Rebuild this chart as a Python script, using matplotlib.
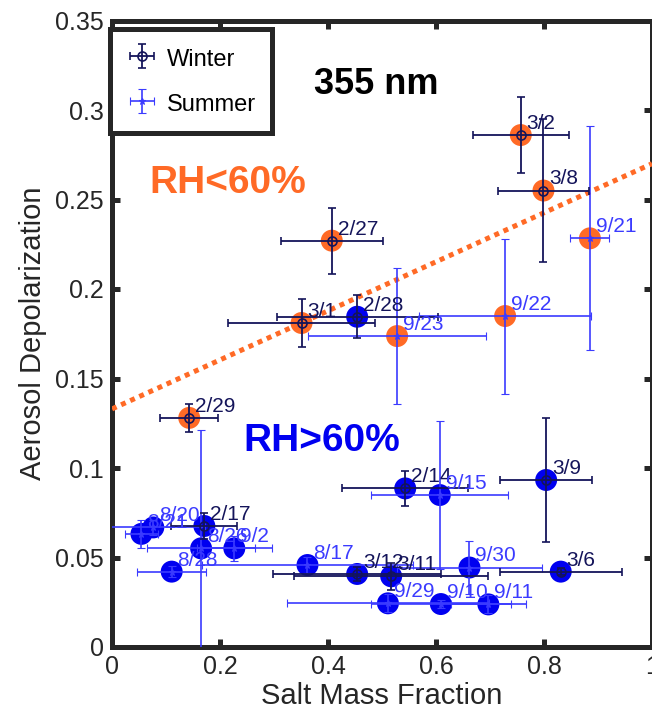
import numpy as np
import matplotlib
matplotlib.use("Agg")
import matplotlib.pyplot as plt

# =========================
# DATA
# =========================
winter_dates = ["3/2", "3/8", "2/27", "3/1", "2/28", "2/29", "2/14", "3/9", "3/6", "3/12", "3/11", "2/17"]
winter_salt = [0.757, 0.799, 0.407, 0.351, 0.454, 0.143, 0.543, 0.804, 0.831, 0.454, 0.517, 0.171]
winter_depol = [0.286, 0.255, 0.227, 0.181, 0.1845, 0.128, 0.0886, 0.0933, 0.0421, 0.0408, 0.0395, 0.0676]
winter_salt_err = [0.089, 0.085, 0.094, 0.136, 0.149, 0.054, 0.117, 0.085, 0.113, 0.155, 0.180, 0.061]
winter_depol_err = [0.021, 0.040, 0.0185, 0.0133, 0.012, 0.008, 0.0098, 0.0346, 0.002, 0.004, 0.0075, 0.0075]
winter_dry = [True, True, True, True, False, True, False, False, False, False, False, False]

summer_dates = ["9/21", "9/22", "9/23", "9/15", "9/30", "9/29", "9/10", "9/11",
                "8/17", "8/28", "8/26", "9/2", "8/20", "8/21"]
summer_salt = [0.885, 0.728, 0.528, 0.607, 0.662, 0.511, 0.609, 0.697,
               0.362, 0.1105, 0.165, 0.2265, 0.0765, 0.0545]
summer_depol = [0.2283, 0.1849, 0.1737, 0.0849, 0.0444, 0.0244, 0.024, 0.0238,
                0.0458, 0.0421, 0.0551, 0.0551, 0.0668, 0.0632]
summer_salt_err = [0.036, 0.159, 0.165, 0.1265, 0.135, 0.187, 0.13, 0.07,
                   0.196, 0.0635, 0.1, 0.07, 0.096, 0.03]
summer_depol_err = [0.0625, 0.0433, 0.038, 0.0415, 0.015, 0.005, 0.002, 0.005,
                    0.0046, 0.003, 0.066, 0.007, 0.004, 0.008]
summer_dry = [True, True, True, False, False, False, False, False,
              False, False, False, False, False, False]

# dotted RH<60% trend line
fit_x = [0.0, 1.0]
fit_y = [0.133, 0.270]

# =========================
# STYLE
# =========================
plt.rcParams["font.family"] = ["Liberation Sans", "DejaVu Sans"]
dark = "#262626"
navy = "#14145a"
summer_blue = "#3b3bff"
orange = "#ff6a26"
blue = "#0000f0"

fig = plt.figure(figsize=(6.52, 7.19), dpi=100)
ax = fig.add_axes([112 / 652, 1 - 647 / 719, 540 / 652, 626.5 / 719])

# =========================
# BIG RH CIRCLES
# =========================
all_x = np.array(winter_salt + summer_salt)
all_y = np.array(winter_depol + summer_depol)
all_dry = np.array(winter_dry + summer_dry)
ax.scatter(all_x, all_y, s=250, c=np.where(all_dry, orange, blue),
           edgecolors="none", zorder=2)

ax.plot(fit_x, fit_y, color=orange, linewidth=3.6, dashes=(1, 1),
        dash_capstyle="butt", zorder=3)

# =========================
# ERROR BARS
# =========================
ax.errorbar(winter_salt, winter_depol, xerr=winter_salt_err, yerr=winter_depol_err,
            fmt="o", color=navy, mfc="none", mec=navy, ms=6.5, mew=1.2,
            elinewidth=1.3, capsize=3, capthick=1.3, label="Winter", zorder=5)
ax.errorbar(summer_salt, summer_depol, xerr=summer_salt_err, yerr=summer_depol_err,
            fmt="*", color=summer_blue, ms=5, mew=0.8,
            elinewidth=1.2, capsize=3, capthick=1.2, label="Summer", zorder=4)

for d, x, y in zip(winter_dates, winter_salt, winter_depol):
    ax.text(x + 0.011, y + 0.0065, d, color=navy, fontsize=15, va="center", ha="left", zorder=6)
for d, x, y in zip(summer_dates, summer_salt, summer_depol):
    ax.text(x + 0.011, y + 0.0065, d, color=summer_blue, fontsize=15, va="center", ha="left", zorder=6)

# =========================
# ANNOTATIONS
# =========================
ax.text(0.49, 0.314, "355 nm", fontsize=26, fontweight="bold", color="black", ha="center", va="center")
ax.text(0.07, 0.259, "RH<60%", fontsize=28, fontweight="bold", color=orange, ha="left", va="center")
ax.text(0.243, 0.115, "RH>60%", fontsize=28, fontweight="bold", color=blue, ha="left", va="center")

# =========================
# AXES
# =========================
ax.set_xlim(0, 1)
ax.set_ylim(0, 0.35)
ax.set_xticks([0, 0.2, 0.4, 0.6, 0.8, 1])
ax.set_xticklabels(["0", "0.2", "0.4", "0.6", "0.8", "1"])
ax.set_yticks([0, 0.05, 0.1, 0.15, 0.2, 0.25, 0.3, 0.35])
ax.set_yticklabels(["0", "0.05", "0.1", "0.15", "0.2", "0.25", "0.3", "0.35"])
ax.tick_params(direction="in", length=6, width=3.6, labelsize=18, colors=dark,
               top=True, right=True, pad=6)
for sp in ax.spines.values():
    sp.set_linewidth(3.6)
    sp.set_color(dark)
ax.set_xlabel("Salt Mass Fraction", fontsize=21, color=dark, labelpad=2)
ax.set_ylabel("Aerosol Depolarization", fontsize=21, color=dark, labelpad=6)

leg = ax.legend(loc="upper left", bbox_to_anchor=(-0.004, 0.986), borderaxespad=0,
                fontsize=17, frameon=True, fancybox=False, framealpha=1,
                handlelength=1.3, handleheight=1.2, handletextpad=0.4,
                borderpad=0.7, labelspacing=0.85)
leg.get_frame().set_edgecolor(dark)
leg.get_frame().set_linewidth(3.6)

fig.savefig("out.png", dpi=100)
